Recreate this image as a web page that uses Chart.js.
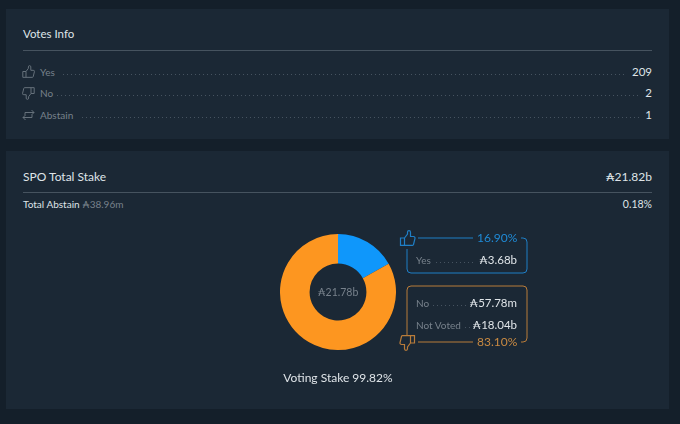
<!DOCTYPE html>
<html>
<head>
<meta charset="utf-8">
<title>Votes Info</title>
<script src="https://cdn.jsdelivr.net/npm/chart.js@4"></script>
<style>
html, body { margin: 0; padding: 0; }
body { width: 680px; height: 424px; overflow: hidden; background: #141f2a; position: relative;
  font-family: Lato, "DejaVu Sans", sans-serif; color: #dfe4e8; }
.panel { position: absolute; left: 6px; width: 663px; background: #1b2835; }
.abs { position: absolute; white-space: nowrap; line-height: 14px; }
.rule { position: absolute; left: 23px; width: 629px; height: 1px; background: #46535f; }
.dots { position: absolute; height: 1px; background: repeating-linear-gradient(90deg, #465360 0 1px, transparent 1px 4px); }
.muted { color: #77818b; }
#donut { position: absolute; left: 280px; top: 234px; }
svg { position: absolute; left: 0; top: 0; }
</style>
</head>
<body>
<div class="panel" style="top:9px;height:130px"></div>
<div class="panel" style="top:151px;height:258px"></div>
<div class="rule" style="top:50px"></div>
<div class="rule" style="top:192px"></div>

<div class="abs" style="left:23px;top:27px;font-size:11.5px">Votes Info</div>
<div id="votes"></div>

<div class="abs" style="left:23px;top:169.500px;font-size:12px">SPO Total Stake</div>
<div class="abs" id="total" style="right:28px;top:169.500px;font-size:12px"></div>
<div class="abs" id="abstain" style="left:23px;top:197px;font-size:10px"></div>
<div class="abs" id="abstainPct" style="right:28px;top:197px;font-size:10.5px"></div>

<canvas id="donut" width="116" height="116"></canvas>

<svg width="680" height="424" fill="none">
  <defs>
    <path id="thumb" d="M5 7.500L8 3.500V1.700a1.500 1.500 0 0 1 3 0V6H14a1.500 1.500 0 0 1 1.500 1.800L14 14a1 1 0 0 1 -1 .8H1V7.500H5V14.800"/>
  </defs>
  <path d="M418 238H473M521 238H523a4 4 0 0 1 4 4V269a4 4 0 0 1 -4 4H411a4 4 0 0 1 -4 -4V249" stroke="#1f7fc6"/>
  <use href="#thumb" x="0" y="0" transform="translate(399.500,230.500)" stroke="#1f7fc6" stroke-width="1.200"/>
  <path d="M418 342H473M521 342H523a4 4 0 0 0 4 -4V290a4 4 0 0 0 -4 -4H411a4 4 0 0 0 -4 4V335" stroke="#b97c3a"/>
  <use href="#thumb" transform="translate(415.500,350.500) rotate(180)" stroke="#b97c3a" stroke-width="1.200"/>
  <g stroke="#66717b">
    <use href="#thumb" transform="translate(22,65.500) scale(0.8)" stroke-width="1.250"/>
    <use href="#thumb" transform="translate(35,99.500) rotate(180) scale(0.8)" stroke-width="1.250"/>
    <path d="M25 115v-2.500h9M31.500 110l2.500 2.500-2.500 2.500M32 115v2.500H23M25.500 115l-2.500 2.500 2.500 2.500"/>
  </g>
  <text x="477" y="242" font-size="12" fill="#1f8ad6" id="yesPct"></text>
  <text x="477" y="346" font-size="12" fill="#c98a42" id="noPct"></text>
</svg>

<div id="yesRows"></div>
<div id="noRows"></div>
<div class="abs" id="voting" style="left:238px;width:200px;text-align:center;top:371px;font-size:12px"></div>

<script>
// Votes Info
const voteLabels = ['Yes', 'No', 'Abstain'];
const voteCounts = [209, 2, 1];

// SPO Total Stake
const sliceLabels = ['Yes', 'No'];
const sliceValues = [16.90, 83.10];
const sliceColors = ['#0f97fb', '#fd9620'];
const totalStake = '₳21.82b';
const votingTotal = '₳21.78b';
const abstainStake = '₳38.96m';
const abstainPct = '0.18%';
const votingPct = '99.82%';
const yesRowLabels = ['Yes'];
const yesRowValues = ['₳3.68b'];
const noRowLabels = ['No', 'Not Voted'];
const noRowValues = ['₳57.78m', '₳18.04b'];

// Baris label ... nilai dengan garis titik di tengah
function addRow(parent, label, value, left, right, y, dotStart, dotEnd, size) {
    const box = document.getElementById(parent);
    box.insertAdjacentHTML('beforeend',
        `<div class="abs muted" style="left:${left}px;top:${y}px;font-size:${size}px">${label}</div>` +
        `<div class="dots" style="left:${dotStart}px;width:${dotEnd - dotStart}px;top:${y + 9}px"></div>` +
        `<div class="abs" style="right:${680 - right}px;top:${y}px;font-size:${size + 1.5}px">${value}</div>`);
}

voteLabels.forEach((label, i) => {
    addRow('votes', label, voteCounts[i], 40, 652, 65 + i * 21.3, [63, 57, 82][i], [625, 640, 640][i], 10);
});
yesRowLabels.forEach((label, i) => {
    addRow('yesRows', label, yesRowValues[i], 416, 517, 253, 436, 476, 10);
});
noRowLabels.forEach((label, i) => {
    addRow('noRows', label, noRowValues[i], 416, 517, 296 + i * 21.5, [433, 465][i], [466, 470][i], 10);
});

document.getElementById('total').textContent = totalStake;
document.getElementById('abstain').innerHTML = `Total Abstain <span class="muted">${abstainStake}</span>`;
document.getElementById('abstainPct').textContent = abstainPct;
document.getElementById('voting').textContent = `Voting Stake ${votingPct}`;
document.getElementById('yesPct').textContent = sliceValues[0].toFixed(2) + '%';
document.getElementById('noPct').textContent = sliceValues[1].toFixed(2) + '%';

// Teks di tengah donut
const centerText = {
    id: 'centerText',
    afterDraw(chart) {
        const { ctx, chartArea } = chart;
        ctx.save();
        ctx.font = '10.5px Lato, "DejaVu Sans", sans-serif';
        ctx.fillStyle = '#77818b';
        ctx.textAlign = 'center';
        ctx.textBaseline = 'middle';
        ctx.fillText(votingTotal, (chartArea.left + chartArea.right) / 2, (chartArea.top + chartArea.bottom) / 2 + 1);
        ctx.restore();
    }
};

new Chart(document.getElementById('donut'), {
    type: 'doughnut',
    data: {
        labels: sliceLabels,
        datasets: [{ data: sliceValues, backgroundColor: sliceColors, borderWidth: 0 }]
    },
    options: {
        responsive: false,
        animation: false,
        cutout: '49%',
        plugins: { legend: { display: false }, tooltip: { enabled: false } }
    },
    plugins: [centerText]
});
</script>
</body>
</html>
